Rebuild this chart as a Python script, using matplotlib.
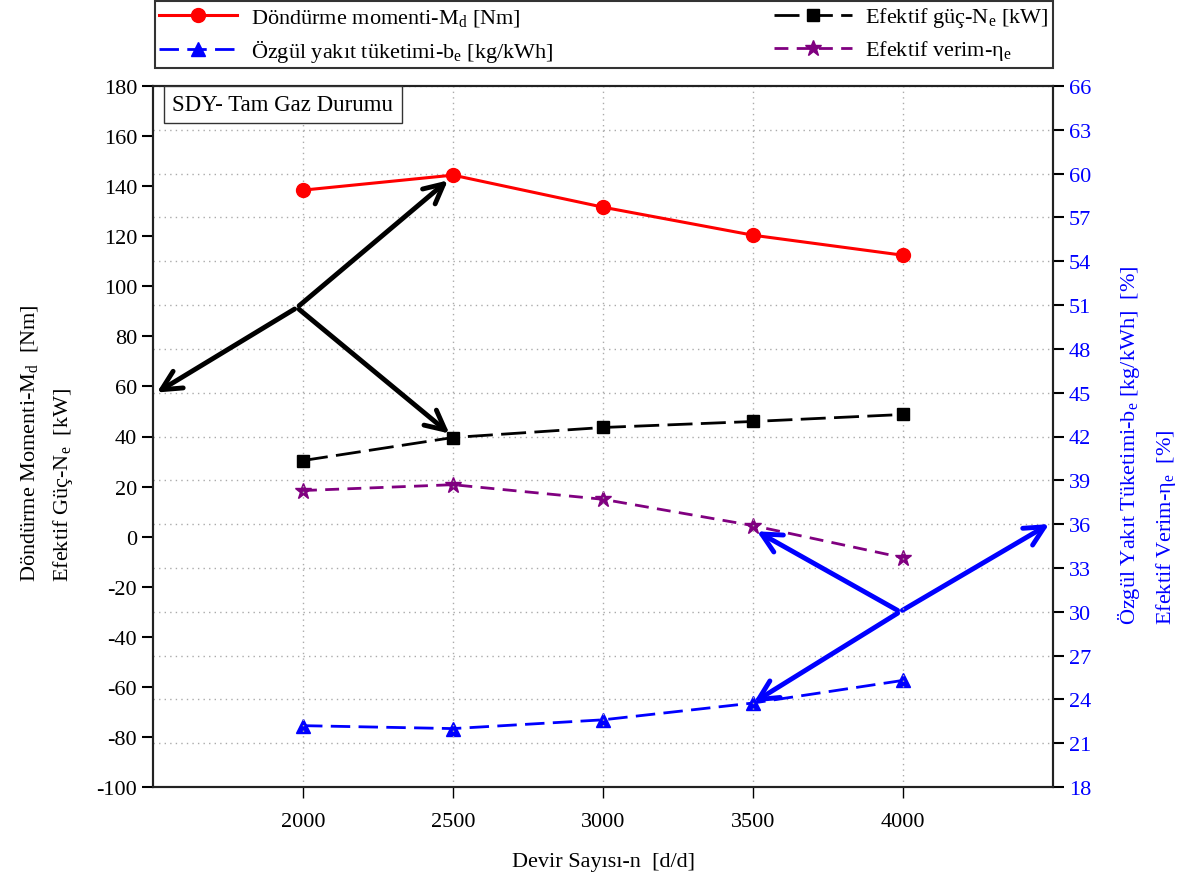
import matplotlib
matplotlib.use("Agg")
import matplotlib.pyplot as plt

plt.rcParams["font.family"] = ["Liberation Serif", "DejaVu Serif"]
plt.rcParams["mathtext.fontset"] = "custom"
plt.rcParams["mathtext.rm"] = "Liberation Serif"
plt.rcParams["mathtext.it"] = "Liberation Serif"
plt.rcParams["axes.unicode_minus"] = False

# --- data ---
rpm = [2000, 2500, 3000, 3500, 4000]
torque = [138.4, 144.4, 131.6, 120.4, 112.4]      # Md [Nm], left axis
power = [30.4, 39.6, 43.6, 46.0, 48.8]            # Ne [kW], left axis
bsfc = [22.2, 22.0, 22.6, 23.75, 25.3]            # be, right axis
efficiency = [38.3, 38.7, 37.7, 35.9, 33.7]       # eta_e [%], right axis

left_ticks = list(range(-100, 181, 20))
right_ticks = list(range(18, 67, 3))
x_ticks = [2000, 2500, 3000, 3500, 4000]

FS = 16

fig = plt.figure(figsize=(11.9, 8.79), dpi=100)
ax = fig.add_axes([153 / 1190, 1 - 788 / 879, 900 / 1190, 701 / 879])
ax2 = ax.twinx()

ax.set_xlim(1500, 4500)
ax.set_ylim(-100, 180)
ax2.set_ylim(18, 66)
ax.set_xticks(x_ticks)
ax.set_yticks(left_ticks)
ax2.set_yticks(right_ticks)

for spine in list(ax.spines.values()) + list(ax2.spines.values()):
    spine.set_linewidth(1.5)
    spine.set_color("#222222")

ax.tick_params(axis="x", direction="out", length=8, width=1, pad=10, labelsize=FS)
ax.tick_params(axis="y", direction="out", length=8, width=1.5, labelsize=FS)
ax2.tick_params(axis="y", direction="out", length=8, width=1.5, labelsize=FS,
                labelcolor="blue")

# grid: vertical at x ticks, horizontal at right-axis ticks
ax.grid(axis="x", linestyle=(0, (1, 3)), color="#aaaaaa", lw=1)
ax2.grid(axis="y", linestyle=(0, (1, 3)), color="#aaaaaa", lw=1)
ax.set_zorder(ax2.get_zorder() + 1)
ax.patch.set_visible(False)

l_md, = ax.plot(rpm, torque, color="red", lw=2.2, marker="o", ms=10,
                label=r"Döndürme momenti-M$_{\mathrm{d}}$ [Nm]")
l_ne, = ax.plot(rpm, power, color="black", lw=2, marker="s", ms=9,
                dashes=(9, 3), label=r"Efektif güç-N$_{\mathrm{e}}$ [kW]")
l_be, = ax2.plot(rpm, bsfc, color="blue", lw=2, marker="^", ms=10,
                 dashes=(7, 3), label=r"Özgül yakıt tüketimi-b$_{\mathrm{e}}$ [kg/kWh]")
l_eta, = ax2.plot(rpm, efficiency, color="purple", lw=2, marker="*", ms=12,
                  dashes=(5, 3), label=r"Efektif verim-η$_{\mathrm{e}}$")

# annotation arrows
arrow_black = dict(arrowstyle="->,head_length=1.4,head_width=0.7", color="black", lw=3.5)
black_start = (1980, 91.5)
for end in [(2490, 143), (1505, 57), (2495, 40.5)]:
    ax.annotate("", xy=end, xytext=black_start, arrowprops=arrow_black,
                annotation_clip=False)

arrow_blue = dict(arrowstyle="->,head_length=1.4,head_width=0.7", color="blue", lw=3.5)
blue_start = (3990, 30.0)
for end in [(3505, 35.6), (3495, 23.7), (4495, 36.1)]:
    ax2.annotate("", xy=end, xytext=blue_start, arrowprops=arrow_blue,
                 annotation_clip=False)

ax.text(1565, 172.5, "SDY- Tam Gaz Durumu", fontsize=FS + 0.5, va="center", ha="left",
        bbox=dict(boxstyle="square,pad=0.35", fc="white", ec="#333333", lw=1))

ax.set_xlabel("Devir Sayısı-n  [d/d]", fontsize=FS, labelpad=15)

fig.text(30 / 1190, 1 - 582 / 879, r"Döndürme Momenti-M$_{\mathrm{d}}$  [Nm]",
         rotation=90, fontsize=FS, ha="center", va="bottom")
fig.text(63 / 1190, 1 - 582 / 879, r"Efektif Güç-N$_{\mathrm{e}}$  [kW]",
         rotation=90, fontsize=FS, ha="center", va="bottom")
fig.text(1128 / 1190, 1 - 625 / 879, r"Özgül Yakıt Tüketimi-b$_{\mathrm{e}}$ [kg/kWh]  [%]",
         rotation=90, fontsize=FS, ha="center", va="bottom", color="blue")
fig.text(1166 / 1190, 1 - 625 / 879, r"Efektif Verim-η$_{\mathrm{e}}$  [%]",
         rotation=90, fontsize=FS, ha="center", va="bottom", color="blue")

handles = [l_md, l_be, l_ne, l_eta]
leg = fig.legend(handles=handles, labels=[h.get_label() for h in handles],
                 loc="upper left", ncol=2, mode="expand",
                 bbox_to_anchor=(155 / 1190, 1 - 66 / 879, 898 / 1190, 64 / 879),
                 borderaxespad=0, fontsize=FS, frameon=True, fancybox=False,
                 edgecolor="black", handlelength=3.5, borderpad=0.2,
                 labelspacing=0.4, handletextpad=0.6)
leg.get_frame().set_linewidth(1.5)

fig.savefig("out.png", dpi=100)
